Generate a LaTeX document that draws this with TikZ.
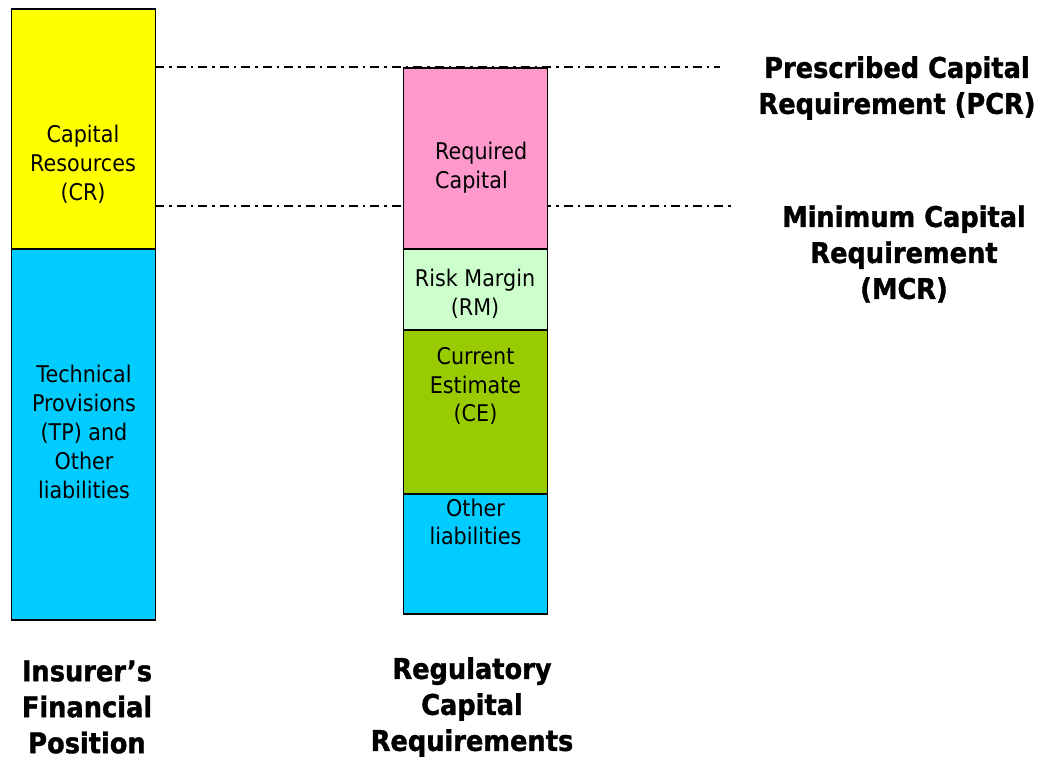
\documentclass[tikz,border=0pt]{standalone}
\usepackage{fontspec}
\setmainfont{DejaVu Sans}[FakeStretch=0.9,BoldFeatures={FakeBold=1.2}]
\begin{document}
\begin{tikzpicture}[x=1pt,y=-1pt,
  bar/.style={draw=black,line width=1.8pt,minimum width=144pt,inner sep=0pt},
  txt/.style={align=center,inner sep=0pt,font=\fontsize{23}{28.8}\selectfont},
  big/.style={align=center,inner sep=0pt,font=\fontsize{28.5}{36}\selectfont\bfseries},
  refline/.style={line width=2pt,dash pattern=on 9pt off 5pt on 2.5pt off 5pt}]
\useasboundingbox (0,0) rectangle (1051,758);
\definecolor{cyanb}{HTML}{00CCFF}
\definecolor{pinkb}{HTML}{FF99CC}
\definecolor{mintb}{HTML}{CCFFCC}
\definecolor{oliveb}{HTML}{99CC00}
\definecolor{yellowb}{HTML}{FFFF00}
% reference lines (behind the boxes)
\coordinate (pcrstart) at (155,67);
\coordinate (pcrend) at (720,67);
\coordinate (mcrstart) at (155,206);
\coordinate (mcrend) at (732,206);
\draw[refline] (pcrstart) -- (pcrend);
\draw[refline] (mcrstart) -- (mcrend);
% left column
\node[bar,fill=yellowb,minimum height=240pt] (cr) at (83.5,129) {};
\node[bar,fill=cyanb,minimum height=371pt] (tp) at (83.5,434.5) {};
% right column
\node[bar,fill=pinkb,minimum height=181pt] (rc) at (475.5,158.5) {};
\node[bar,fill=mintb,minimum height=81pt] (rm) at (475.5,289.5) {};
\node[bar,fill=oliveb,minimum height=164pt] (ce) at (475.5,412) {};
\node[bar,fill=cyanb,minimum height=120pt] (ol) at (475.5,554) {};
% texts in boxes
\node[txt] (crt) at (83,164) {Capital\\Resources\\(CR)};
\node[txt] (tpt) at (84,432) {Technical\\Provisions\\(TP) and\\Other\\liabilities};
\node[txt,align=left,anchor=west] (rct) at (435,168) {Required\\Capital};
\node[txt] (rmt) at (475,294) {Risk Margin\\(RM)};
\node[txt] (cet) at (475.5,386) {Current\\Estimate\\(CE)};
\node[txt] (olt) at (475.5,522) {Other\\liabilities};
% labels
\node[big] (pcr) at (897,88) {Prescribed Capital\\Requirement (PCR)};
\node[big] (mcr) at (904,254) {Minimum Capital\\Requirement\\(MCR)};
\node[big] (ifp) at (87,707) {Insurer’s\\Financial\\Position};
\node[big] (rcr) at (472,707) {Regulatory\\Capital\\Requirements};
\end{tikzpicture}
\end{document}
